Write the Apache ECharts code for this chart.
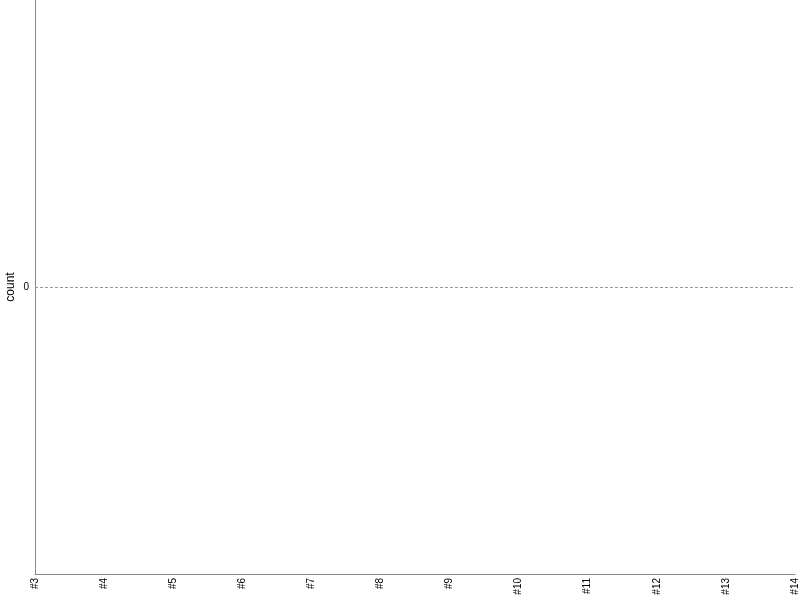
<!DOCTYPE html>
<html><head><meta charset="utf-8">
<script src="https://cdn.jsdelivr.net/npm/echarts@6/dist/echarts.min.js"></script>
<style>html,body{margin:0;padding:0;background:#fff}#c{width:800px;height:600px}</style>
</head><body><div id="c"></div>
<script>
const categories = ['#3','#4','#5','#6','#7','#8','#9','#10','#11','#12','#13','#14'];
const counts = [0,0,0,0,0,0,0,0,0,0,0,0];
const yTicks = [0];
const chart = echarts.init(document.getElementById('c'));
chart.setOption({
  animation: false,
  grid: {left: 35, right: 5, top: 0, bottom: 26, containLabel: false, outerBoundsMode: 'none'},
  xAxis: {
    type: 'category', data: categories, boundaryGap: false,
    axisLine: {onZero: false, lineStyle: {color: '#888', width: 1}},
    axisTick: {show: false},
    axisLabel: {rotate: 90, color: '#000', fontSize: 10, fontFamily: 'Liberation Sans', margin: 4, interval: 0},
    splitLine: {show: false}
  },
  yAxis: {
    type: 'value', min: -1, max: 1, interval: 1,
    name: 'count', nameLocation: 'middle', nameGap: 18, nameRotate: 90, nameMoveOverlap: false,
    nameTextStyle: {color: '#000', fontSize: 12, fontFamily: 'Liberation Sans'},
    axisLine: {show: true, lineStyle: {color: '#888', width: 1}},
    axisTick: {show: false},
    axisLabel: {color: '#000', fontSize: 10, fontFamily: 'Liberation Sans', margin: 6,
      formatter: v => yTicks.includes(v) ? String(v) : ''},
    splitLine: {show: false}
  },
  series: [{
    type: 'line', data: counts, symbol: 'none',
    lineStyle: {opacity: 0},
    markLine: {silent: true, symbol: 'none', label: {show: false},
      lineStyle: {type: [3, 2], color: '#999', width: 1},
      data: yTicks.map(v => ({yAxis: v}))}
  }]
});
</script></body></html>
